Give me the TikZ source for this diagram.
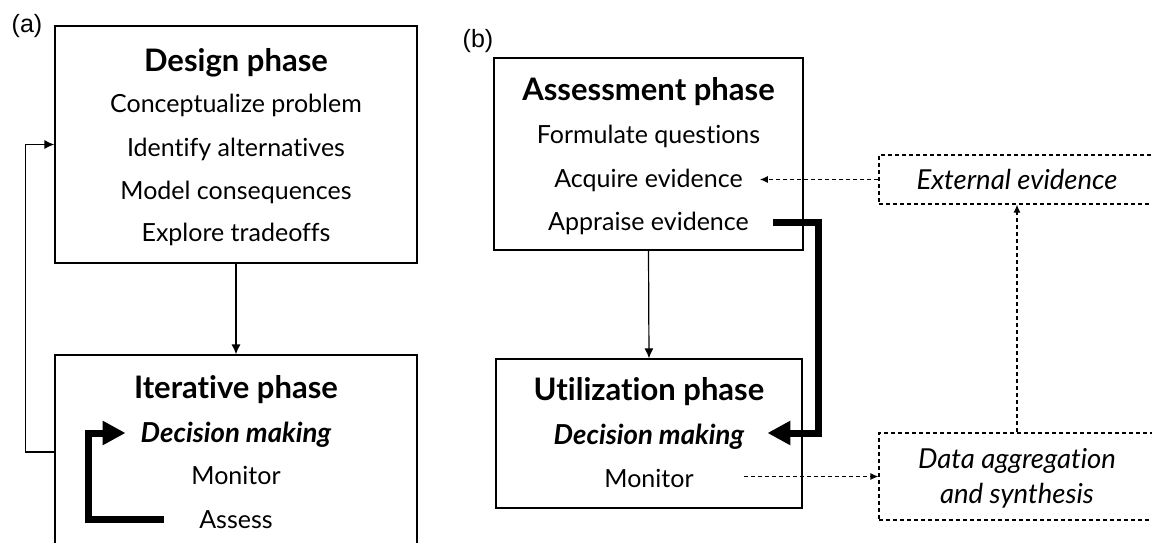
\documentclass[tikz,border=0pt]{standalone}
\usepackage{fontspec}
\setmainfont{Lato}[Ligatures=NoCommon]
\newfontfamily\tagfont{Liberation Sans}
\usetikzlibrary{arrows.meta,positioning}

\begin{document}
\begin{tikzpicture}[x=1pt,y=-1pt,
    phasebox/.style={draw,line width=1.2pt,inner sep=0pt},
    extbox/.style={draw,line width=1.2pt,dash pattern=on 4pt off 3pt,inner sep=0pt},
    head/.style={anchor=base,inner sep=0pt,font=\fontsize{31}{36}\selectfont\bfseries},
    item/.style={anchor=base,inner sep=0pt,font=\fontsize{25}{29}\selectfont},
    slant/.style={anchor=base,inner sep=0pt,font=\fontsize{27.5}{32}\selectfont\itshape},
    tag/.style={anchor=base,inner sep=0pt,font=\fontsize{25}{29}\selectfont\tagfont},
    link/.style={line width=1.2pt,-{Latex[length=10pt,width=9pt]}},
    hint/.style={line width=1.2pt,dash pattern=on 4pt off 3pt,-{Latex[length=8pt,width=7pt]}},
    cycle/.style={line width=7pt,-{Triangle[length=23pt,width=23pt]}}]
  \useasboundingbox (0,0) rectangle (1152,543);

  % (a)
  \node[tag] (taga) at (27,33) {(a)};
  \node[phasebox,minimum width=362pt,minimum height=237pt] (design) at (236,144.5) {};
  \node[head] (dhead) at (236,71) {Design phase};
  \foreach \y/\t [count=\i] in {113/Conceptualize problem, 156/Identify alternatives,
      199/Model consequences, 241/Explore tradeoffs}
    \node[item] (d\i) at (236,\y) {\t};

  \node[phasebox,minimum width=362pt,minimum height=194pt] (iter) at (236,452) {};
  \node[head] (ihead) at (236,398) {Iterative phase};
  \node[slant] (i1) at (236,442) {\bfseries Decision making};
  \node[item] (i2) at (236,484) {Monitor};
  \node[item] (i3) at (236,528) {Assess};

  \draw[link] (design.south) -- (iter.north);
  \draw[link] (iter.west) -| ([xshift=-29pt]design.west) -- (design.west);
  \draw[cycle] ([shift={(-35,-9)}]i3.base west) -| ([shift={(-52,-9)}]i1.base west)
    -- ([shift={(-15,-9)}]i1.base west);

  % (b)
  \node[tag] (tagb) at (478,48) {(b)};
  \node[phasebox,minimum width=309pt,minimum height=192pt] (assess) at (648.5,154) {};
  \node[head] (ahead) at (648.5,100) {Assessment phase};
  \foreach \y/\t [count=\i] in {143/Formulate questions, 187/Acquire evidence, 230/Appraise evidence}
    \node[item] (a\i) at (648.5,\y) {\t};

  \node[phasebox,minimum width=306pt,minimum height=149pt] (util) at (649,433.5) {};
  \node[head] (uhead) at (649,400) {Utilization phase};
  \node[slant] (u1) at (649,444) {\bfseries Decision making};
  \node[item] (u2) at (649,487) {Monitor};

  \node[extbox,minimum width=276pt,minimum height=49pt] (ext) at (1017,179.5) {};
  \node[slant] (e1) at (1017,189) {External evidence};
  \node[extbox,minimum width=276pt,minimum height=87pt] (data) at (1017,476.5) {};
  \node[slant] (g1) at (1017,468) {Data aggregation};
  \node[slant] (g2) at (1017,503) {and synthesis};

  \coordinate (acqin) at ([xshift=17pt]a2.east);
  \coordinate (monout) at ([xshift=50pt]u2.east);

  \draw[link] (assess.south) -- (util.north);
  \draw[hint] (ext.west) -- (ext.west -| acqin);
  \draw[hint] (data.west -| monout) -- (data.west);
  \draw[hint] (data.north) -- (ext.south);
  \draw[cycle] ([shift={(24,-8)}]a3.base east) -| (818,433) -- ([shift={(23,-11)}]u1.base east);
\end{tikzpicture}
\end{document}
